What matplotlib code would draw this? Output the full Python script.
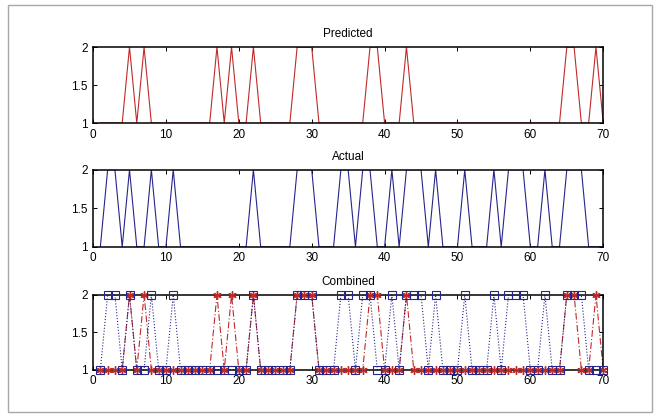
import numpy as np
import matplotlib.pyplot as plt
from matplotlib.patches import Rectangle

plt.rcParams['font.family'] = ['Liberation Sans', 'DejaVu Sans']

# data: class label (1 or 2) per sample
x = np.arange(1, 71)

predicted = [1, 1, 1, 1, 2, 1, 2, 1, 1, 1,
             1, 1, 1, 1, 1, 1, 2, 1, 2, 1,
             1, 2, 1, 1, 1, 1, 1, 2, 2, 2,
             1, 1, 1, 1, 1, 1, 1, 2, 2, 1,
             1, 1, 2, 1, 1, 1, 1, 1, 1, 1,
             1, 1, 1, 1, 1, 1, 1, 1, 1, 1,
             1, 1, 1, 1, 2, 2, 1, 1, 2, 1]

actual = [1, 2, 2, 1, 2, 1, 1, 2, 1, 1,
          2, 1, 1, 1, 1, 1, 1, 1, 1, 1,
          1, 2, 1, 1, 1, 1, 1, 2, 2, 2,
          1, 1, 1, 2, 2, 1, 2, 2, 1, 1,
          2, 1, 2, 2, 2, 1, 2, 1, 1, 1,
          2, 1, 1, 1, 2, 1, 2, 2, 2, 1,
          1, 2, 1, 1, 2, 2, 2, 1, 1, 1]

red = '#c02a2a'
blue = '#25258c'

fig = plt.figure(figsize=(6.6, 4.17), dpi=100)
fig.patches.append(Rectangle((0.012, 0.012), 0.976, 0.976, transform=fig.transFigure,
                             fill=False, edgecolor='#a8a8a8', linewidth=1))

axes_pos = [[0.141, 0.705, 0.773, 0.182],
            [0.141, 0.408, 0.773, 0.185],
            [0.141, 0.113, 0.773, 0.180]]
titles = ['Predicted', 'Actual', 'Combined']

axs = [fig.add_axes(p) for p in axes_pos]

axs[0].plot(x, predicted, color=red, linewidth=0.8)
axs[1].plot(x, actual, color=blue, linewidth=0.8)

# combined: lines stay under the box, markers sit on top of it
axs[2].plot(x, predicted, color=red, linestyle=(0, (6, 2, 1, 2)), linewidth=0.8)
axs[2].plot(x, actual, color=blue, linestyle=':', linewidth=0.8)
axs[2].plot(x, predicted, color=red, linestyle='none', marker=(6, 2, 0),
            markersize=6, markeredgewidth=1, clip_on=False, zorder=3)
axs[2].plot(x, actual, color=blue, linestyle='none', marker='s', markersize=6,
            markerfacecolor='none', markeredgewidth=0.8, clip_on=False, zorder=3)

for ax, t in zip(axs, titles):
    ax.set_xlim(0, 70)
    ax.set_ylim(1, 2)
    ax.set_xticks(np.arange(0, 71, 10))
    ax.set_yticks([1, 1.5, 2])
    ax.set_yticklabels(['1', '1.5', '2'])
    ax.tick_params(direction='in', top=True, right=True, labelsize=8.5,
                   length=3, width=0.7, pad=4)
    for s in ax.spines.values():
        s.set_linewidth(1.1)
    ax.set_title(t, fontsize=8.5, pad=7)

plt.savefig('out.png', dpi=100)
